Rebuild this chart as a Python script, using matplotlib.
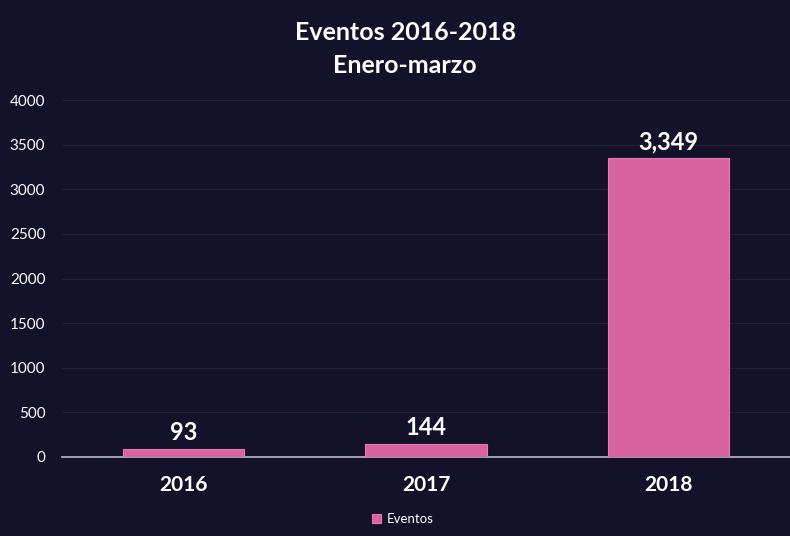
import matplotlib.pyplot as plt

years = ['2016', '2017', '2018']
eventos = [93, 144, 3349]

bg = '#14112a'
pink = '#d862a2'

plt.rcParams['font.family'] = ['Lato', 'DejaVu Sans']

fig = plt.figure(figsize=(7.9, 5.36), dpi=100, facecolor=bg)
ax = fig.add_axes([62 / 790, 79 / 536, 728 / 790, 357 / 536])
ax.set_facecolor(bg)

x = range(len(years))
ax.bar(x, eventos, width=0.5, color=pink, edgecolor='#e07ab0', linewidth=0.8,
       label='Eventos', zorder=3)

for i, v in zip(x, eventos):
    ax.text(i, v + 55, f'{v:,}', ha='center', va='bottom', color='white',
            fontsize=17, fontweight='bold')

ax.set_xlim(-0.5, 2.5)
ax.set_ylim(0, 4000)
ax.set_yticks(range(0, 4001, 500))
ax.set_xticks(list(x))
ax.set_xticklabels(years, fontsize=15, fontweight='bold', color='white')
ax.tick_params(axis='y', colors='white', labelsize=11, length=0, pad=12)
ax.tick_params(axis='x', colors='white', length=0, pad=13)
ax.grid(axis='y', color='#221f3a', linewidth=0.8, zorder=0)

for s in ['top', 'right', 'left']:
    ax.spines[s].set_visible(False)
ax.spines['bottom'].set_color('#b8b8c8')
ax.spines['bottom'].set_linewidth(1.2)

fig.text(0.513, 0.94, 'Eventos 2016-2018', ha='center', va='center',
         color='white', fontsize=18, fontweight='bold')
fig.text(0.513, 0.877, 'Enero-marzo', ha='center', va='center',
         color='white', fontsize=18, fontweight='bold')

leg = fig.legend(loc='center', bbox_to_anchor=(0.51, 0.032), frameon=False,
                 fontsize=9.5, handlelength=0.7, handleheight=0.7,
                 handletextpad=0.4)
for t in leg.get_texts():
    t.set_color('white')

fig.savefig('out.png', dpi=100, facecolor=bg)
